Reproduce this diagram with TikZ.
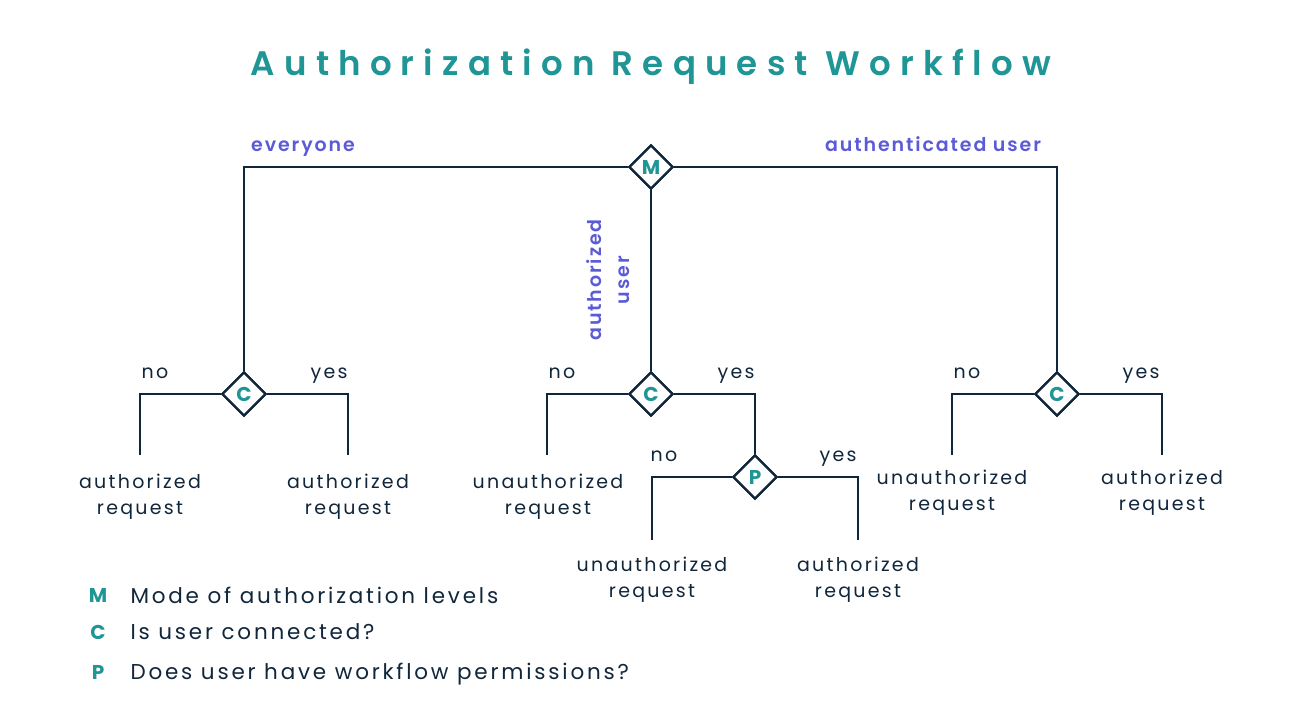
\documentclass[tikz,border=0pt]{standalone}
\usepackage{fontspec}
\setmainfont{Poppins}
\newfontfamily\spaced[LetterSpace=12]{Poppins}
\newfontfamily\lspaced[LetterSpace=13]{Poppins}
\newfontfamily\bspaced[LetterSpace=10]{Poppins SemiBold}
\newfontfamily\titlefont[LetterSpace=27]{Poppins SemiBold}
\usetikzlibrary{shapes.geometric}
\definecolor{teal}{HTML}{1F9595}
\definecolor{purp}{HTML}{5B5BD6}
\definecolor{ink}{HTML}{10263B}
\begin{document}
\begin{tikzpicture}[x=1pt,y=-1pt,
  dec/.style={diamond,draw=ink,line width=2.4pt,fill=white,minimum width=44pt,minimum height=44pt,inner sep=0pt,text=teal,font=\fontsize{20}{20}\selectfont\bfseries},
  ln/.style={draw=ink,line width=2.4pt},
  lab/.style={text=ink,font=\spaced\fontsize{19}{26}\selectfont,align=center},
  br/.style={text=ink,font=\spaced\fontsize{19}{19}\selectfont,anchor=base},
  pl/.style={text=purp,font=\bspaced\fontsize{19}{28}\selectfont,align=center},
  leg/.style={text=ink,font=\lspaced\fontsize{21.5}{21.5}\selectfont,anchor=base west},
  legk/.style={text=teal,font=\fontsize{20}{20}\selectfont\bfseries,anchor=base}]
\useasboundingbox (0,0) rectangle (1302,707);
\node[text=teal,font=\titlefont\fontsize{34}{34}\selectfont,anchor=base] (title) at (651,75) {Authorization Request Workflow};
\coordinate (la) at (244,167); \coordinate (ra) at (1057,167);
\node[dec] (M) at (651,167) {M};
\node[dec] (C1) at (244,394) {C};
\node[dec] (C2) at (651,394) {C};
\node[dec] (C3) at (1057,394) {C};
\node[dec] (P) at (755,477) {P};
\draw[ln] (M.west) -- (la) -- (C1.north);
\draw[ln] (M.east) -- (ra) -- (C3.north);
\draw[ln] (M.south) -- (C2.north);
\coordinate (a1) at (140,394); \coordinate (a1e) at (140,455);
\coordinate (b1) at (348,394); \coordinate (b1e) at (348,455);
\draw[ln] (C1.west) -- (a1) -- (a1e);
\draw[ln] (C1.east) -- (b1) -- (b1e);
\coordinate (a2) at (547,394); \coordinate (a2e) at (547,455);
\coordinate (b2) at (755,394);
\draw[ln] (C2.west) -- (a2) -- (a2e);
\draw[ln] (C2.east) -- (b2) -- (P.north);
\coordinate (a4) at (652,477); \coordinate (a4e) at (652,540);
\coordinate (b4) at (858,477); \coordinate (b4e) at (858,540);
\draw[ln] (P.west) -- (a4) -- (a4e);
\draw[ln] (P.east) -- (b4) -- (b4e);
\coordinate (a3) at (952,394); \coordinate (a3e) at (952,455);
\coordinate (b3) at (1162,394); \coordinate (b3e) at (1162,455);
\draw[ln] (C3.west) -- (a3) -- (a3e);
\draw[ln] (C3.east) -- (b3) -- (b3e);
\foreach \n/\t in {M/M,C1/C,C2/C,C3/C,P/P}{\node[dec] at (\n) {\t};}
\node[pl,anchor=base] (ev) at (303,151) {everyone};
\node[pl,anchor=base] (au) at (933,151) {authenticated user};
\node[pl,rotate=90] (az) at (608,280) {authorized\\user};
\node[br] (n1) at (155,378) {no}; \node[br] (y1) at (329,378) {yes};
\node[br] (n2) at (562,378) {no}; \node[br] (y2) at (736,378) {yes};
\node[br] (n3) at (967,378) {no}; \node[br] (y3) at (1141,378) {yes};
\node[br] (n4) at (664,461) {no}; \node[br] (y4) at (838,461) {yes};
\node[lab] (r1) at (140,497) {authorized\\request};
\node[lab] (r2) at (348,497) {authorized\\request};
\node[lab] (r3) at (548,497) {unauthorized\\request};
\node[lab] (r4) at (652,580) {unauthorized\\request};
\node[lab] (r5) at (858,580) {authorized\\request};
\node[lab] (r6) at (952,493) {unauthorized\\request};
\node[lab] (r7) at (1162,493) {authorized\\request};
\node[legk] (kM) at (98,602) {M}; \node[leg] (tM) at (127,603) {Mode of authorization levels};
\node[legk] (kC) at (98,639) {C}; \node[leg] (tC) at (127,639) {Is user connected?};
\node[legk] (kP) at (98,679) {P}; \node[leg] (tP) at (127,679) {Does user have workflow permissions?};
\end{tikzpicture}
\end{document}
